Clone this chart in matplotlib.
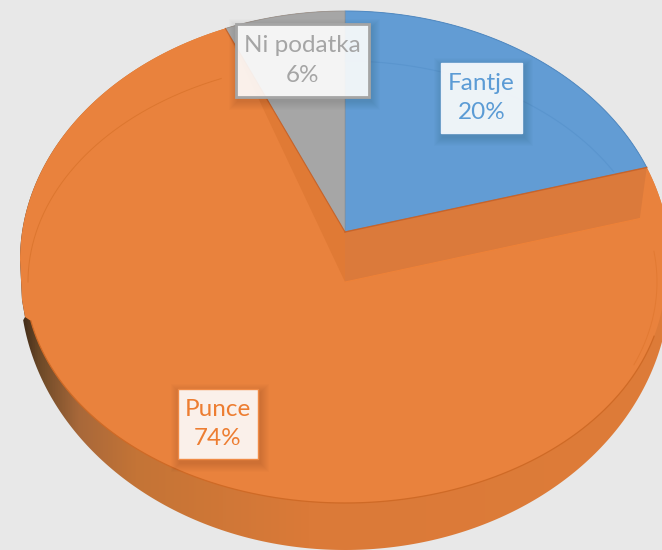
import matplotlib
matplotlib.use("Agg")
import matplotlib.pyplot as plt
from matplotlib.patches import Polygon, Rectangle
from matplotlib.colors import LinearSegmentedColormap
import numpy as np

# slices, clockwise from the top
names = ["Fantje", "Punce", "Ni podatka"]
shares = [20, 74, 6]
colors = ["#629CD4", "#E9823D", "#A6A6A6"]
text_colors = ["#5B9BD5", "#ED7D31", "#A5A5A5"]
edge_colors = ["#EAF1FA", "#F08A45", "#A5A5A5"]
# label boxes: x0, y0, x1, y1 in pixels
boxes = [(441, 63, 522, 133), (178, 389, 258, 459), (236, 24, 369, 97)]

plt.rcParams['font.family'] = ['Lato', 'DejaVu Sans']

fig = plt.figure(figsize=(6.62, 5.5), dpi=100, facecolor="#E8E8E8")
ax = fig.add_axes([0, 0, 1, 1])
ax.set_facecolor("#E8E8E8")


def arc(cy, rx, ry, t0, t1, cx=345, n=200):
    t = np.radians(np.linspace(t0, t1, n))
    return np.column_stack([cx + rx * np.cos(t), cy - ry * np.sin(t)])


def angle(frac):
    # the perspective pushes the right hand side up a bit
    t = (90 - 360 * frac) % 360
    return t + 4 * max(np.cos(np.radians(t)), 0)


top = (260, 325, 249)
t_blue = angle(shares[0] / 100)
t_grey = angle((shares[0] + shares[1]) / 100)
apex = np.array([345, 232])
apex_low = np.array([345, 282])

# side wall with the dark to light gradient
wall_pts = np.vstack([arc(260, 325, 249, 0, 180), [[22, 300], [25, 317]], arc(283, 325, 267, 188, 360)])
wall = Polygon(wall_pts, closed=True, fc="none", ec="none")
ax.add_patch(wall)
cmap = LinearSegmentedColormap.from_list("wall", [(0, "#3E2A18"), (0.03, "#6E4A28"), (0.09, "#A8683A"),
                                                  (0.18, "#C47436"), (0.45, "#DB7A38"), (1, "#DE7C39")])
img = ax.imshow(np.linspace(0, 1, 256).reshape(1, -1), extent=(20, 662, 550, 0), cmap=cmap, aspect="auto", zorder=1)
img.set_clip_path(wall)

# orange top surface
orange_pts = np.vstack([arc(260, 325, 249, 0, 180), [[22, 300], [25, 317]], arc(278, 320, 225, 191, 360)])
ax.add_patch(Polygon(orange_pts, closed=True, fc=colors[1], ec="none", zorder=2))
ax.plot(*arc(278, 320, 225, 191, 345).T, color="#CF6A26", lw=0.9, zorder=3)

# faint rim of the lower ring
ax.plot(*arc(282, 317, 221, 113, 180).T, color="#DC762F", lw=0.7, zorder=3)
ax.plot(*arc(282, 317, 221, -22, 8, cx=340).T, color="#E27A33", lw=0.7, zorder=3)

# blue slice
blue_pts = np.vstack([apex, arc(*top, 90, t_blue)])
ax.add_patch(Polygon(blue_pts, closed=True, fc=colors[0], ec="#4C8BC8", lw=0.7, zorder=4))
ax.plot(*arc(282, 310, 221, 30, 90).T, color="#5A95CE", lw=0.8, zorder=5)

# grey slice
grey_pts = np.vstack([apex, arc(*top, t_grey, 90)])
ax.add_patch(Polygon(grey_pts, closed=True, fc=colors[2], ec="#969696", lw=0.6, zorder=4))

# inner walls of the cut out part
blue_end = blue_pts[-1]
grey_end = grey_pts[1]
ax.add_patch(Polygon([apex, blue_end, blue_end + [-7, 51], apex_low], closed=True, fc="#DB7A3B", ec="none", zorder=5))
ax.add_patch(Polygon([apex, grey_end, apex_low], closed=True, fc="#E07A35", ec="none", zorder=5))
ax.plot([apex[0], blue_end[0]], [apex[1], blue_end[1]], color="#C8642A", lw=1, zorder=5)
ax.plot([apex[0], grey_end[0]], [apex[1], grey_end[1]], color="#C8642A", lw=0.8, zorder=5)
ax.plot([apex_low[0], blue_end[0] - 7], [apex_low[1], blue_end[1] + 51], color="#EF8238", lw=0.7, zorder=5)

# labels
for name, share, col, edge, box in zip(names, shares, text_colors, edge_colors, boxes):
    x0, y0, x1, y1 = box
    for grow in range(1, 10):
        ax.add_patch(Rectangle((x0 + 2 - grow, y0 + 4 - grow), x1 - x0 + 2 * grow, y1 - y0 + 2 * grow,
                               fc="black", ec="none", alpha=0.012, zorder=6))
    ax.add_patch(Rectangle((x0, y0), x1 - x0, y1 - y0, fc=(1, 1, 1, 0.9), ec=edge, lw=2 if name == names[2] else 1, zorder=7))
    ax.text((x0 + x1) / 2, (y0 + y1) / 2, f"{name}\n{share}%", color=col, fontsize=17.5, ha="center", va="center",
            linespacing=1.5, zorder=8)

ax.set_xlim(0, 662)
ax.set_ylim(550, 0)
ax.axis("off")
plt.savefig("out.png", dpi=100, facecolor=fig.get_facecolor())
